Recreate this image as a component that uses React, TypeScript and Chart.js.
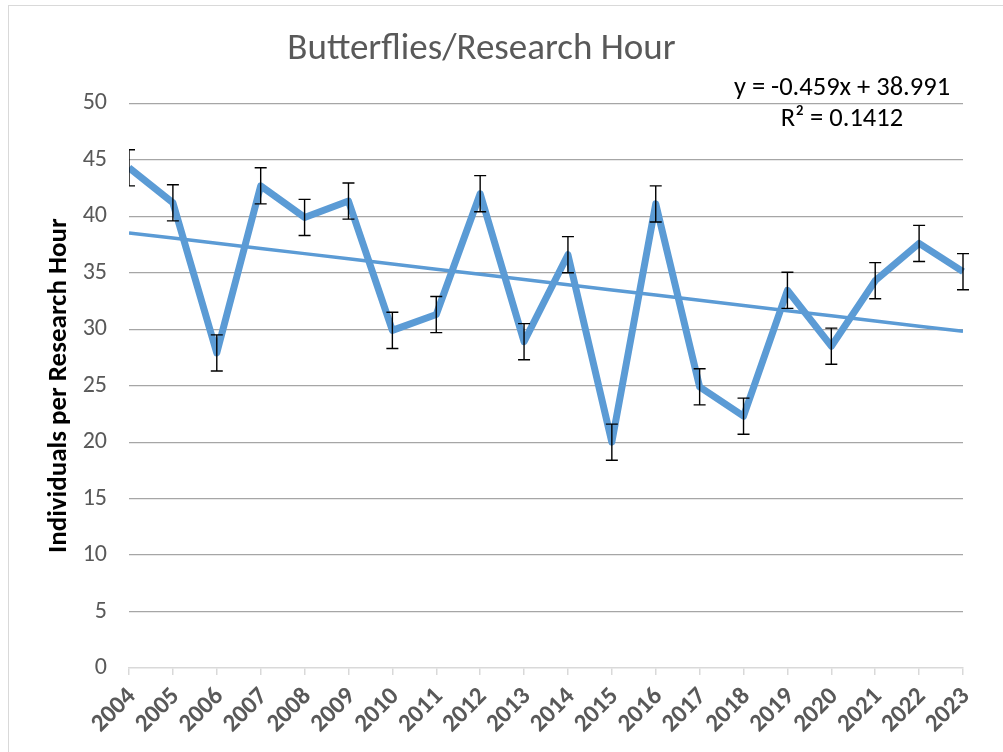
import React, { useEffect, useRef } from "react";
import { Chart, registerables } from "chart.js";

Chart.register(...registerables);

const CHART_TITLE = "Butterflies/Research Hour";
const Y_AXIS_TITLE = "Individuals per Research Hour";
const YEARS = ["2004","2005","2006","2007","2008","2009","2010","2011","2012","2013","2014","2015","2016","2017","2018","2019","2020","2021","2022","2023"];
const VALUES = [44.3, 41.2, 27.9, 42.7, 39.9, 41.35, 29.9, 31.3, 42.0, 28.9, 36.6, 20.0, 41.1, 24.9, 22.3, 33.45, 28.5, 34.3, 37.6, 35.1];
const ERRORS = [1.6, 1.6, 1.6, 1.6, 1.6, 1.6, 1.6, 1.6, 1.6, 1.6, 1.6, 1.6, 1.6, 1.6, 1.6, 1.6, 1.6, 1.6, 1.6, 1.6];
const TREND_SLOPE = -0.459;
const TREND_INTERCEPT = 38.991;
const TREND_EQUATION = "y = -0.459x + 38.991";
const TREND_R2 = "R² = 0.1412";
const Y_MIN = 0;
const Y_MAX = 50;
const Y_STEP = 5;

const FONT = "Carlito, Calibri, Lato, 'Open Sans', sans-serif";
const BLUE = "#5B9BD5";

const errorBarPlugin = {
  id: "errorBars",
  afterDatasetsDraw(chart: any) {
    const { ctx, chartArea, scales } = chart;
    const xs = scales.x;
    const ys = scales.y;
    ctx.save();
    ctx.beginPath();
    ctx.rect(chartArea.left, 0, chart.width - chartArea.left, chart.height);
    ctx.clip();
    ctx.strokeStyle = "#000000";
    ctx.lineWidth = 1.4;
    const cap = 6;
    VALUES.forEach((v, i) => {
      const x = xs.getPixelForValue(i);
      const yTop = ys.getPixelForValue(v + ERRORS[i]);
      const yBot = ys.getPixelForValue(v - ERRORS[i]);
      ctx.beginPath();
      ctx.moveTo(x, yTop);
      ctx.lineTo(x, yBot);
      ctx.moveTo(x - cap, yTop);
      ctx.lineTo(x + cap, yTop);
      ctx.moveTo(x - cap, yBot);
      ctx.lineTo(x + cap, yBot);
      ctx.stroke();
    });
    ctx.restore();

    // trendline label
    ctx.save();
    ctx.fillStyle = "#000000";
    ctx.font = `26.5px ${FONT}`;
    ctx.textAlign = "center";
    ctx.textBaseline = "middle";
    const cx = chartArea.right - 121;
    ctx.fillText(TREND_EQUATION, cx, chartArea.top - 15);
    ctx.fillText(TREND_R2, cx, chartArea.top + 16);
    ctx.restore();
  },
};

export default function App() {
  const canvasRef = useRef<HTMLCanvasElement | null>(null);

  useEffect(() => {
    const canvas = canvasRef.current;
    if (!canvas) return;
    const trend = YEARS.map((_, i) => TREND_INTERCEPT + TREND_SLOPE * (i + 1));
    const chart = new Chart(canvas, {
      type: "line",
      data: {
        labels: YEARS,
        datasets: [
          {
            label: "Butterflies/Research Hour",
            data: VALUES,
            borderColor: BLUE,
            borderWidth: 7,
            pointRadius: 0,
            borderJoinStyle: "round",
            borderCapStyle: "butt",
            tension: 0,
            clip: { left: 0, top: false, right: 4, bottom: false } as any,
            order: 1,
          },
          {
            label: "Linear trend",
            data: trend,
            borderColor: BLUE,
            borderWidth: 3.5,
            pointRadius: 0,
            tension: 0,
            clip: 0 as any,
            order: 2,
          },
        ],
      },
      options: {
        responsive: false,
        animation: false,
        events: [],
        layout: { padding: { left: 0, right: 40, top: 0, bottom: 0 } },
        plugins: {
          legend: { display: false },
          tooltip: { enabled: false },
          title: {
            display: true,
            text: CHART_TITLE,
            color: "#595959",
            font: { family: FONT, size: 37, weight: "normal" },
            padding: { top: 28, bottom: 31 },
          },
        },
        scales: {
          x: {
            type: "category",
            offset: false,
            afterFit(scale: any) {
              scale.height = 84;
            },
            grid: {
              drawOnChartArea: false,
              drawTicks: true,
              tickLength: 7,
              color: "#d9d9d9",
              lineWidth: 1.5,
            },
            border: { display: true, color: "#d9d9d9", width: 1.5 },
            ticks: {
              autoSkip: false,
              maxRotation: 45,
              minRotation: 45,
              padding: 7,
              labelOffset: 3,
              color: "#595959",
              font: { family: FONT, size: 25, weight: "bold" },
            },
          },
          y: {
            min: Y_MIN,
            max: Y_MAX,
            afterFit(scale: any) {
              scale.width = 129;
            },
            ticks: {
              stepSize: Y_STEP,
              padding: 22,
              color: "#595959",
              font: { family: FONT, size: 24 },
            },
            grid: {
              drawTicks: false,
              tickLength: 0,
              lineWidth: 1.3,
              color: (c: any) => (c.tick && c.tick.value === 0 ? "rgba(0,0,0,0)" : "#a6a6a6"),
            },
            border: { display: false },
            title: {
              display: true,
              text: Y_AXIS_TITLE,
              color: "#000000",
              font: { family: FONT, size: 27, weight: "bold" },
              padding: { top: 43, bottom: 0 },
            },
          },
        },
      },
      plugins: [errorBarPlugin],
    });
    return () => chart.destroy();
  }, []);

  return (
    <div style={{ position: "fixed", left: 0, top: 0, width: 1003, height: 752, overflow: "hidden", background: "#ffffff" }}>
      <div
        style={{
          position: "absolute",
          left: 8,
          top: 5,
          width: 1200,
          height: 900,
          borderLeft: "1.5px solid #d9d9d9",
          borderTop: "1.5px solid #d9d9d9",
        }}
      />
      <canvas ref={canvasRef} width={1003} height={752} style={{ position: "absolute", left: 0, top: 0 }} />
    </div>
  );
}
